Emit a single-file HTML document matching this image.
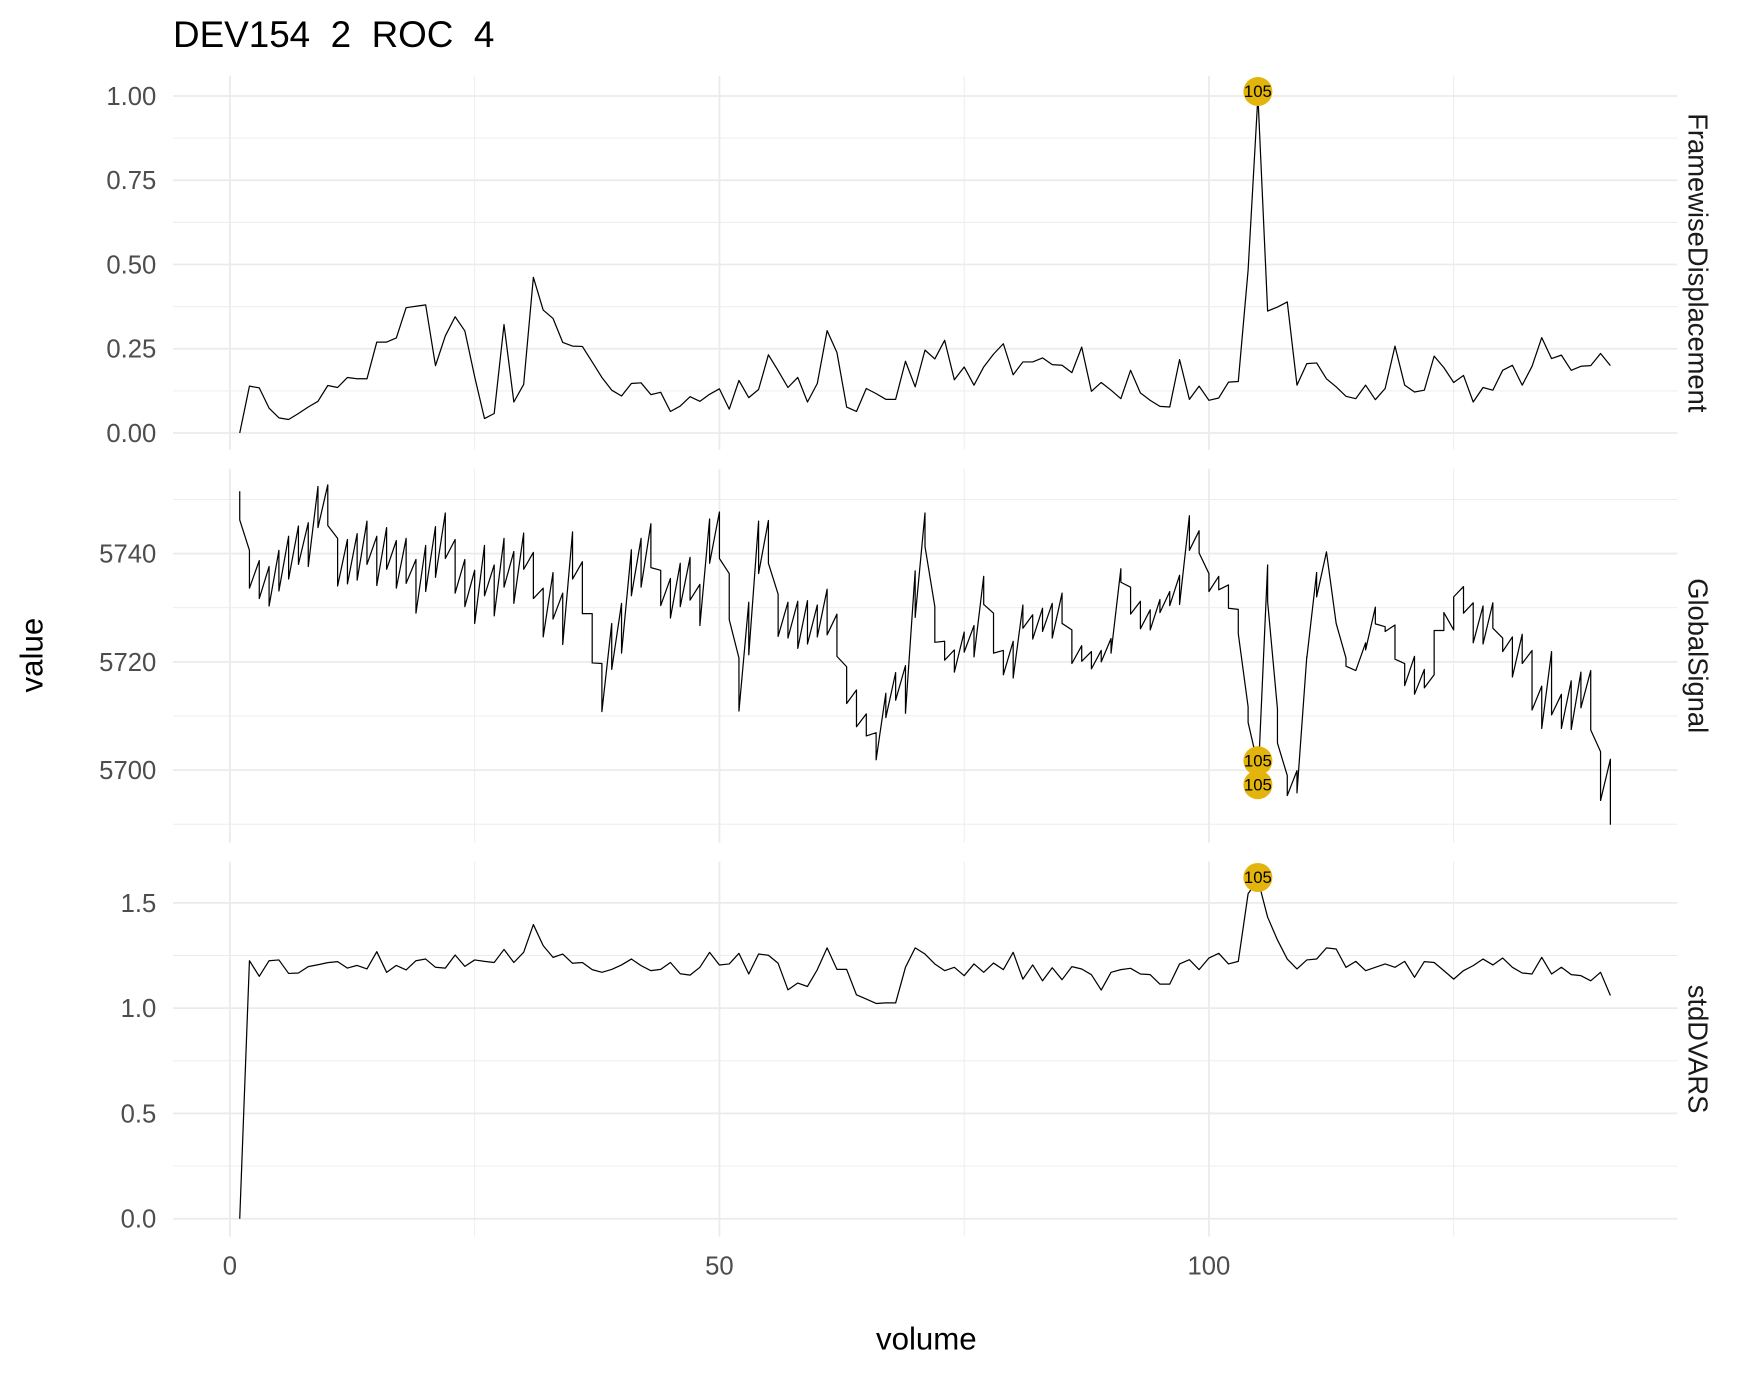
<!DOCTYPE html>
<html><head><meta charset="utf-8">
<style>
html,body{margin:0;padding:0;background:#fff;}
svg{display:block;font-family:"Liberation Sans",Arial,sans-serif;}
</style></head>
<body>
<svg id="chart" width="1750" height="1375" viewBox="0 0 1568 1232" xmlns="http://www.w3.org/2000/svg">
<rect width="1568" height="1232" fill="#fff"/>
<text x="155" y="42" font-size="33" fill="#000" style="white-space:pre" xml:space="preserve">DEV154  2  ROC  4</text>
<text transform="translate(38,587) rotate(-90)" text-anchor="middle" font-size="28" fill="#000">value</text>
<text x="830" y="1209" text-anchor="middle" font-size="28" fill="#000">volume</text>
<g id="grid"></g>
<g id="marks"></g>
</svg>
<script>
const volumes = [];
for (let i = 1; i <= 141; i++) volumes.push(i);
const xTicks = [0, 50, 100];
const xMinor = [25, 75, 125];
const flagged = [105];

const fdValues = [0,0.139,0.134,0.074,0.045,0.04,0.058,0.077,0.094,0.141,0.135,0.165,0.161,0.161,0.27,0.27,0.282,0.372,0.376,0.38,0.2,0.288,0.345,0.303,0.167,0.043,0.058,0.322,0.092,0.144,0.462,0.365,0.34,0.269,0.258,0.257,0.211,0.165,0.127,0.11,0.147,0.149,0.114,0.121,0.064,0.08,0.108,0.094,0.115,0.131,0.071,0.156,0.105,0.129,0.232,0.185,0.135,0.165,0.092,0.147,0.304,0.239,0.077,0.064,0.132,0.117,0.1,0.1,0.213,0.137,0.246,0.22,0.275,0.158,0.196,0.142,0.196,0.234,0.265,0.173,0.211,0.211,0.223,0.203,0.201,0.179,0.255,0.124,0.15,0.127,0.102,0.186,0.119,0.097,0.079,0.077,0.218,0.1,0.139,0.097,0.104,0.151,0.153,0.483,1.0,0.362,0.374,0.389,0.142,0.206,0.208,0.161,0.137,0.109,0.102,0.142,0.099,0.132,0.258,0.142,0.122,0.127,0.228,0.194,0.15,0.171,0.092,0.135,0.127,0.186,0.201,0.142,0.198,0.283,0.221,0.231,0.186,0.198,0.2,0.236,0.2];

const gsFirst = [5751.5,5740.6,5738.7,5737.6,5740.6,5743.2,5745.1,5745.7,5752.4,5752.7,5742.8,5742.6,5743.7,5746.0,5743.2,5744.8,5742.4,5742.8,5738.9,5741.5,5745.0,5747.5,5742.6,5738.9,5736.9,5741.5,5737.9,5742.8,5740.4,5743.8,5740.2,5733.6,5736.5,5732.7,5744.0,5738.5,5728.9,5719.7,5727.1,5730.8,5740.7,5742.8,5745.5,5736.9,5735.4,5738.2,5739.3,5734.3,5746.4,5747.7,5736.3,5720.7,5731.0,5746.0,5746.1,5732.5,5731.0,5731.2,5731.3,5730.5,5733.4,5728.8,5719.1,5714.8,5710.4,5706.9,5714.2,5718.0,5719.3,5736.8,5747.5,5730.2,5723.8,5722.2,5725.5,5726.7,5735.8,5729.0,5722.1,5723.8,5730.5,5728.7,5729.9,5730.8,5732.7,5725.9,5723.0,5721.9,5722.1,5724.3,5737.2,5733.8,5731.2,5729.6,5731.5,5733.0,5736.0,5747.0,5744.2,5736.3,5735.8,5734.2,5729.7,5711.7,5700.9,5737.9,5711.3,5699.0,5699.9,5721.0,5736.5,5740.3,5727.1,5720.7,5718.4,5723.5,5730.1,5726.5,5726.8,5719.7,5721.0,5718.6,5717.6,5725.8,5725.9,5733.9,5730.9,5730.3,5730.9,5724.4,5724.6,5725.1,5722.1,5715.5,5721.9,5714.0,5716.5,5718.1,5718.4,5703.4,5702.0];
const gsSecond = [5746.2,5733.6,5731.7,5730.3,5733.1,5735.3,5738.0,5737.6,5744.8,5745.2,5734.0,5734.4,5735.1,5738.0,5734.1,5737.1,5733.6,5734.5,5729.0,5733.0,5735.6,5739.1,5732.7,5730.2,5727.1,5732.2,5728.5,5733.8,5730.8,5737.1,5731.7,5724.6,5727.9,5723.2,5735.3,5728.9,5719.8,5710.8,5718.6,5721.6,5732.2,5733.8,5737.4,5730.4,5728.1,5730.2,5731.4,5726.7,5738.2,5739.1,5727.8,5710.9,5721.3,5736.3,5738.2,5724.7,5724.4,5722.5,5723.3,5724.6,5725.0,5721.0,5712.3,5708.0,5706.3,5701.9,5709.7,5712.9,5710.5,5728.2,5741.3,5723.6,5720.3,5718.1,5721.8,5720.9,5730.6,5721.6,5717.6,5717.0,5726.2,5724.2,5725.6,5724.4,5727.1,5719.7,5720.1,5718.7,5720.0,5721.6,5734.7,5728.8,5726.1,5725.9,5729.1,5730.4,5730.6,5740.6,5740.1,5733.0,5733.3,5729.9,5725.2,5708.8,5697.7,5731.1,5705.0,5695.3,5695.8,5720.7,5732.0,5740.3,5727.1,5719.2,5718.4,5722.2,5727.0,5725.6,5720.5,5715.6,5714.0,5715.2,5725.8,5729.1,5732.0,5729.0,5723.5,5723.3,5726.2,5721.9,5717.2,5719.7,5711.1,5707.7,5710.2,5707.7,5707.5,5711.5,5707.4,5694.4,5689.9];

const dvValues = [0,1.225,1.151,1.225,1.229,1.165,1.167,1.197,1.206,1.216,1.221,1.19,1.203,1.186,1.268,1.17,1.203,1.181,1.225,1.233,1.194,1.19,1.252,1.198,1.229,1.222,1.217,1.279,1.217,1.265,1.397,1.297,1.241,1.257,1.213,1.217,1.183,1.17,1.184,1.205,1.233,1.202,1.178,1.184,1.217,1.163,1.157,1.194,1.265,1.205,1.21,1.26,1.162,1.257,1.251,1.213,1.087,1.119,1.103,1.183,1.286,1.184,1.184,1.063,1.043,1.022,1.025,1.025,1.194,1.286,1.257,1.21,1.178,1.194,1.154,1.21,1.17,1.214,1.183,1.265,1.138,1.205,1.13,1.192,1.135,1.197,1.186,1.159,1.086,1.17,1.183,1.189,1.162,1.159,1.114,1.114,1.21,1.23,1.183,1.238,1.26,1.21,1.222,1.543,1.61,1.432,1.324,1.233,1.186,1.229,1.233,1.286,1.281,1.194,1.222,1.178,1.194,1.21,1.194,1.222,1.146,1.221,1.217,1.178,1.138,1.178,1.202,1.233,1.205,1.238,1.194,1.167,1.162,1.241,1.162,1.194,1.159,1.154,1.13,1.17,1.06];

const fdTicks = [0, 0.25, 0.5, 0.75, 1.0];
const fdTickLabels = ["0.00", "0.25", "0.50", "0.75", "1.00"];
const fdMinor = [0.125, 0.375, 0.625, 0.875];
const gsTicks = [5700, 5720, 5740];
const gsTickLabels = ["5700", "5720", "5740"];
const gsMinor = [5690, 5710, 5730, 5750];
const dvTicks = [0, 0.5, 1.0, 1.5];
const dvTickLabels = ["0.0", "0.5", "1.0", "1.5"];
const dvMinor = [0.25, 0.75, 1.25];

const NS = "http://www.w3.org/2000/svg";
const L = 155, R = 1503;
const xScale = v => 206 + (v / 50) * 438.6;
const panels = [
  {name: "framewise-displacement", strip: "FramewiseDisplacement", top: 68, bottom: 403, y: v => 388 - v * 302, ticks: fdTicks, labels: fdTickLabels, minor: fdMinor},
  {name: "global-signal", strip: "GlobalSignal", top: 420, bottom: 755, y: v => 496 - (v - 5740) * 4.85, ticks: gsTicks, labels: gsTickLabels, minor: gsMinor},
  {name: "std-dvars", strip: "stdDVARS", top: 772, bottom: 1108, y: v => 1092 - v * 188.7, ticks: dvTicks, labels: dvTickLabels, minor: dvMinor}
];
const grid = document.getElementById('grid');
const marks = document.getElementById('marks');
function mk(tag, attrs, parent) {
  const e = document.createElementNS(NS, tag);
  for (const k in attrs) e.setAttribute(k, attrs[k]);
  parent.appendChild(e);
  return e;
}
panels.forEach(p => {
  xMinor.forEach(t => {
    const l = mk('line', {x1: xScale(t), x2: xScale(t), y1: p.top, y2: p.bottom, stroke: '#ebebeb', 'stroke-width': 0.8}, grid);
    
    
  });
  p.minor.forEach(t => {
    const l = mk('line', {x1: L, x2: R, y1: p.y(t), y2: p.y(t), stroke: '#ebebeb', 'stroke-width': 0.8}, grid);
    
    
  });
  xTicks.forEach(t => {
    const l = mk('line', {x1: xScale(t), x2: xScale(t), y1: p.top, y2: p.bottom, stroke: '#ebebeb', 'stroke-width': 1.6}, grid);
    
    
  });
  p.ticks.forEach((t, i) => {
    const l = mk('line', {x1: L, x2: R, y1: p.y(t), y2: p.y(t), stroke: '#ebebeb', 'stroke-width': 1.6}, grid);
    
    
    const tx = mk('text', {x: 140, y: p.y(t) + 8, 'text-anchor': 'end', 'font-size': 23, fill: '#4d4d4d'}, grid);
    tx.textContent = p.labels[i];
    
    
  });
  const mid = (p.top + p.bottom) / 2;
  const st = mk('text', {transform: `translate(1513,${mid}) rotate(90)`, 'text-anchor': 'middle', 'font-size': 24.5, fill: '#1a1a1a'}, grid);
  st.textContent = p.strip;
  
  
});
xTicks.forEach(t => {
  const tx = mk('text', {x: xScale(t), y: 1142, 'text-anchor': 'middle', 'font-size': 23, fill: '#4d4d4d'}, grid);
  tx.textContent = String(t);
  
  
});

function drawLine(pts, name) {
  const d = pts.map((q, i) => (i ? 'L' : 'M') + q[0].toFixed(1) + ',' + q[1].toFixed(1)).join('');
  const path = mk('path', {d: d, fill: 'none', stroke: '#000', 'stroke-width': 1.1, 'stroke-linejoin': 'round'}, marks);
  
  
}
function drawFlag(x, y, name) {
  const c = mk('circle', {cx: x, cy: y, r: 13, fill: '#E3B50C'}, marks);
  
  
}
function drawFlagText(x, y, label) {
  const t = mk('text', {x: x, y: y + 5, 'text-anchor': 'middle', 'font-size': 15, fill: '#000'}, marks);
  t.textContent = label;
  
  
}
const p0 = panels[0], p1 = panels[1], p2 = panels[2];
drawLine(volumes.map((v, i) => [xScale(v), p0.y(fdValues[i])]), 'fd-line');
const gsPts = [];
volumes.forEach((v, i) => {
  gsPts.push([xScale(v), p1.y(gsFirst[i])]);
  gsPts.push([xScale(v), p1.y(gsSecond[i])]);
});
drawLine(gsPts, 'global-signal-line');
drawLine(volumes.map((v, i) => [xScale(v), p2.y(dvValues[i])]), 'std-dvars-line');

flagged.forEach(f => {
  const i = volumes.indexOf(f);
  const x = xScale(f);
  drawFlag(x, p0.y(fdValues[i]) - 4, 'fd-outlier-marker');
  drawFlagText(x, p0.y(fdValues[i]) - 4, String(f));
  drawFlag(x, p1.y(gsFirst[i]) - 4, 'gs-outlier-marker');
  drawFlag(x, p1.y(gsSecond[i]) + 2, 'gs-outlier-marker');
  drawFlagText(x, p1.y(gsFirst[i]) - 4, String(f));
  drawFlagText(x, p1.y(gsSecond[i]) + 2, String(f));
  drawFlag(x, p2.y(dvValues[i]) - 2, 'dvars-outlier-marker');
  drawFlagText(x, p2.y(dvValues[i]) - 2, String(f));
});
</script>
</body></html>
